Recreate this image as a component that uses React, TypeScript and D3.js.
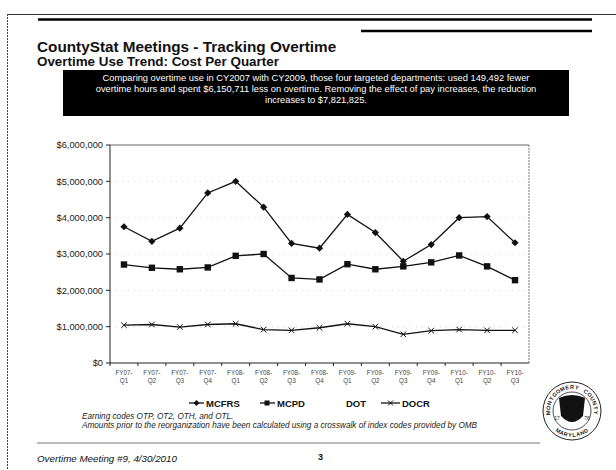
import React from "react";
import * as d3 from "d3";

const categories = ["FY07-Q1","FY07-Q2","FY07-Q3","FY07-Q4","FY08-Q1","FY08-Q2","FY08-Q3","FY08-Q4","FY09-Q1","FY09-Q2","FY09-Q3","FY09-Q4","FY10-Q1","FY10-Q2","FY10-Q3"];
const mcfrs = [3750000,3350000,3710000,4680000,5000000,4290000,3290000,3160000,4090000,3590000,2800000,3260000,4000000,4030000,3310000];
const mcpd = [2710000,2620000,2580000,2630000,2950000,3000000,2340000,2300000,2720000,2580000,2660000,2770000,2960000,2660000,2280000];
const dot: number[] = [];
const docr = [1040000,1060000,990000,1060000,1080000,920000,900000,970000,1080000,1000000,790000,890000,920000,900000,900000];
const yTicks = [0,1000000,2000000,3000000,4000000,5000000,6000000];

const title = "CountyStat Meetings - Tracking Overtime";
const subtitle = "Overtime Use Trend: Cost Per Quarter";
const boxLines = [
  "Comparing overtime use in CY2007 with CY2009, those four targeted departments: used 149,492 fewer",
  "overtime hours and spent $6,150,711 less on overtime.  Removing the effect of pay increases, the reduction",
  "increases to $7,821,825.",
];
const notes = [
  "Earning codes OTP, OT2, OTH, and OTL.",
  "Amounts prior to the reorganization have been calculated using a crosswalk of index codes provided by OMB",
];
const sealTopText = "MONTGOMERY COUNTY";
const sealBottomText = "MARYLAND";

export default function App() {
  const W = 616, H = 470;
  const left = 110, right = 529, top = 145, bottom = 363;
  const x = d3.scaleBand<string>().domain(categories).range([left, right]).padding(0);
  const cx = (c: string) => (x(c) as number) + x.bandwidth() / 2;
  const y = d3.scaleLinear().domain([0, 6000000]).range([bottom, top]);
  const line = d3.line<number>().x((_, i) => cx(categories[i])).y((v) => y(v));
  const fmt = (v: number) => "$" + d3.format(",")(v);
  const font = "Liberation Sans, Arial, sans-serif";

  const diamond = (px: number, py: number, s: number) =>
    `M${px},${py - s}L${px + s},${py}L${px},${py + s}L${px - s},${py}Z`;
  const xMark = (px: number, py: number, s: number) =>
    `M${px - s},${py - s}L${px + s},${py + s}M${px - s},${py + s}L${px + s},${py - s}`;

  const sealCx = 572, sealCy = 411;
  const topChars = sealTopText.split("");
  const topSpan = 200;
  const topLetters = topChars.map((ch, i) => {
    const a = -topSpan / 2 + (topSpan * (i + 0.5)) / topChars.length;
    const r = 24;
    const rad = (a * Math.PI) / 180;
    return { ch, rot: a, px: sealCx + r * Math.sin(rad), py: sealCy - r * Math.cos(rad) };
  });
  const botChars = sealBottomText.split("");
  const botSpan = 80;
  const botLetters = botChars.map((ch, i) => {
    const a = -botSpan / 2 + (botSpan * (i + 0.5)) / botChars.length;
    const r = 24;
    const rad = (a * Math.PI) / 180;
    return { ch, rot: -a, px: sealCx + r * Math.sin(rad), py: sealCy + r * Math.cos(rad) };
  });

  return (
    <svg width={W} height={H} style={{ position: "absolute", left: 0, top: 0, background: "#fff" }} fontFamily={font}>
      <rect x={0} y={0} width={W} height={H} fill="#fff" />
      {/* header rules */}
      <line x1={7} x2={616} y1={14.5} y2={14.5} stroke="#333" strokeWidth={1} />
      <line x1={38} x2={592} y1={19.5} y2={19.5} stroke="#000" strokeWidth={2.5} />
      <line x1={361} x2={592} y1={31} y2={31} stroke="#000" strokeWidth={2.5} />
      <line x1={7.5} x2={7.5} y1={14} y2={470} stroke="#444" strokeWidth={1} strokeDasharray="2,1" />

      <text x={37} y={52} fontSize={15.3} fontWeight="bold" fill="#111">{title}</text>
      <text x={37} y={66} fontSize={13.4} fontWeight="bold" fill="#111">{subtitle}</text>

      <rect x={63} y={70} width={506} height={46} fill="#000" />
      {boxLines.map((t, i) => (
        <text key={i} x={316} y={81 + i * 11} fontSize={9.3} fill="#fff" textAnchor="middle">{t}</text>
      ))}

      {/* gridlines */}
      {yTicks.slice(1, -1).map((t) => (
        <line key={t} x1={left} x2={right} y1={y(t)} y2={y(t)} stroke="#ccc" strokeWidth={0.8} strokeDasharray="1,5" />
      ))}
      {/* plot border */}
      <line x1={left} x2={right} y1={top} y2={top} stroke="#666" strokeWidth={1} />
      <line x1={right} x2={right} y1={top} y2={bottom} stroke="#777" strokeWidth={1} strokeDasharray="2,1" />
      <line x1={left} x2={left} y1={top} y2={bottom} stroke="#222" strokeWidth={1} />
      <line x1={left} x2={right} y1={bottom} y2={bottom} stroke="#222" strokeWidth={1} />

      {yTicks.map((t) => (
        <line key={"t" + t} x1={left - 4} x2={left} y1={y(t)} y2={y(t)} stroke="#222" />
      ))}
      {yTicks.map((t) => (
        <text key={"l" + t} x={left - 7} y={y(t) + 3.3} fontSize={9.3} textAnchor="end" fill="#1a1a1a">{fmt(t)}</text>
      ))}
      {categories.map((c) => (
        <line key={"x" + c} x1={x(c) as number} x2={x(c) as number} y1={bottom} y2={bottom + 3} stroke="#222" />
      ))}
      {categories.map((c) => {
        const [a, b] = c.split("-");
        return (
          <text key={c} x={cx(c)} y={bottom + 12} fontSize={6.3} textAnchor="middle" fill="#444">
            <tspan x={cx(c)}>{a + "-"}</tspan>
            <tspan x={cx(c)} dy={8}>{b}</tspan>
          </text>
        );
      })}

      {/* series */}
      <path d={line(mcfrs) || ""} fill="none" stroke="#111" strokeWidth={1.3} />
      {mcfrs.map((v, i) => (
        <path key={i} d={diamond(cx(categories[i]), y(v), 3.6)} fill="#111" />
      ))}
      <path d={line(mcpd) || ""} fill="none" stroke="#111" strokeWidth={1.3} />
      {mcpd.map((v, i) => (
        <rect key={i} x={cx(categories[i]) - 3.2} y={y(v) - 3.2} width={6.4} height={6.4} fill="#111" />
      ))}
      {dot.length > 0 && <path d={line(dot) || ""} fill="none" stroke="#fff" />}
      <path d={line(docr) || ""} fill="none" stroke="#111" strokeWidth={1.3} />
      {docr.map((v, i) => (
        <path key={i} d={xMark(cx(categories[i]), y(v), 2.8)} stroke="#111" strokeWidth={1} fill="none" />
      ))}

      {/* legend */}
      <g fontSize={9.5} fontWeight="bold" fill="#111">
        <line x1={189} x2={204} y1={403} y2={403} stroke="#111" strokeWidth={1.3} />
        <path d={diamond(196.5, 403, 3)} fill="#111" />
        <text x={206} y={406.5}>MCFRS</text>
        <line x1={260} x2={275} y1={403} y2={403} stroke="#111" strokeWidth={1.3} />
        <rect x={264.5} y={400.5} width={5} height={5} fill="#111" />
        <text x={277} y={406.5}>MCPD</text>
        <text x={346} y={406.5}>DOT</text>
        <line x1={381} x2={400} y1={403} y2={403} stroke="#111" strokeWidth={1.3} />
        <path d={xMark(390.5, 403, 2.5)} stroke="#111" strokeWidth={1} fill="none" />
        <text x={402} y={406.5}>DOCR</text>
      </g>

      {notes.map((t, i) => (
        <text key={i} x={82} y={419 + i * 9} fontSize={8.2} fontStyle="italic" fill="#222">{t}</text>
      ))}

      <line x1={37} x2={540} y1={443} y2={443} stroke="#777" strokeWidth={1} />
      <text x={37} y={462} fontSize={9.8} fontStyle="italic" fill="#111">Overtime Meeting #9, 4/30/2010</text>
      <text x={318} y={460} fontSize={9} fontWeight="bold" fill="#111">3</text>

      {/* seal */}
      <g>
        <circle cx={sealCx} cy={sealCy} r={29} fill="#fff" stroke="#222" strokeWidth={1} />
        <circle cx={sealCx} cy={sealCy} r={19} fill="none" stroke="#222" strokeWidth={0.8} />
        {topLetters.map((l, i) => (
          <text key={"s" + i} x={l.px} y={l.py} fontSize={5.5} fontWeight="bold" fill="#222" textAnchor="middle"
            dominantBaseline="central" transform={`rotate(${l.rot},${l.px},${l.py})`}>{l.ch}</text>
        ))}
        {botLetters.map((l, i) => (
          <text key={"b" + i} x={l.px} y={l.py} fontSize={5.5} fontWeight="bold" fill="#222" textAnchor="middle"
            dominantBaseline="central" transform={`rotate(${l.rot},${l.px},${l.py})`}>{l.ch}</text>
        ))}
        <path
          d={`M${sealCx - 13},${sealCy - 13} Q${sealCx},${sealCy - 19} ${sealCx + 13},${sealCy - 13} L${sealCx + 11},${sealCy + 5} Q${sealCx},${sealCy + 17} ${sealCx - 11},${sealCy + 5} Z`}
          fill="#111"
        />
        <text x={sealCx - 15} y={sealCy + 9} fontSize={5} fill="#222" textAnchor="middle">17</text>
        <text x={sealCx + 15} y={sealCy + 9} fontSize={5} fill="#222" textAnchor="middle">76</text>
      </g>
    </svg>
  );
}
